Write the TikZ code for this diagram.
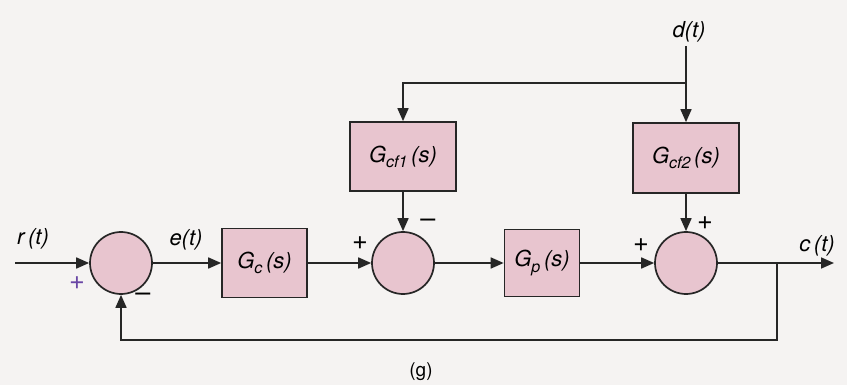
\documentclass[tikz,border=0pt]{standalone}
\usepackage{fontspec}
\setmainfont{TeX Gyre Heros}
\usetikzlibrary{arrows.meta}
\definecolor{blockpink}{RGB}{232,197,207}
\definecolor{paper}{RGB}{245,243,242}
\definecolor{plusviolet}{RGB}{105,70,165}
\newcommand{\lowsub}[1]{\raisebox{-0.45ex}{\fontsize{16}{18}\selectfont #1}}
\begin{document}
\begin{tikzpicture}[x=1pt,y=-1pt,
  blk/.style={draw=black!85, line width=1.7pt, fill=blockpink, inner sep=0pt,
    font=\fontsize{22}{26}\selectfont\itshape},
  sumc/.style={circle, draw=black!85, line width=1.7pt, fill=blockpink,
    minimum size=62pt, inner sep=0pt},
  wire/.style={line width=1.7pt, draw=black!85},
  sig/.style={wire, -{Triangle[length=13pt,width=11pt]}},
  lbl/.style={font=\fontsize{22}{26}\selectfont\itshape, inner sep=0pt},
  sgn/.style={font=\fontsize{27}{30}\selectfont, inner sep=0pt}]
\fill[paper] (0,0) rectangle (847,385);
\useasboundingbox (0,0) rectangle (847,385);

% summing junctions
\node[sumc] (s1) at (121,263) {};
\node[sumc] (s2) at (403,263) {};
\node[sumc] (s3) at (686,263) {};

% blocks
\node[blk, minimum width=85pt, minimum height=69pt] (gc) at (264.5,263) {G\lowsub{c}\,(s)};
\node[blk, minimum width=106pt, minimum height=69pt] (gcf1) at (403,156.5) {G\lowsub{cf1}\,(s)};
\node[blk, minimum width=75pt, minimum height=67pt] (gp) at (542,263) {G\lowsub{p}\,(s)};
\node[blk, minimum width=106pt, minimum height=70pt] (gcf2) at (686,158) {G\lowsub{cf2}\,(s)};

% coordinates
\coordinate (rin) at (15,263);
\coordinate (dtop) at (686,46);
\coordinate (dbr) at (686,83);
\coordinate (dleft) at (403,83);
\coordinate (cbr) at (777,263);
\coordinate (cout) at (834,263);
\coordinate (fbr) at (777,340);
\coordinate (fbl) at (121,340);

% forward path
\draw[sig] (rin) -- (s1.west);
\draw[sig] (s1.east) -- (gc.west);
\draw[sig] (gc.east) -- (s2.west);
\draw[sig] (s2.east) -- (gp.west);
\draw[sig] (gp.east) -- (s3.west);
\draw[sig] (s3.east) -- (cout);

% disturbance paths
\draw[sig] (dtop) -- (gcf2.north);
\draw[sig] (dbr) -- (dleft) -- (gcf1.north);
\draw[sig] (gcf1.south) -- (s2.north);
\draw[sig] (gcf2.south) -- (s3.north);

% feedback
\draw[sig] (cbr) -- (fbr) -- (fbl) -- (s1.south);

% labels
\node[lbl] (lr) at (33,239) {r\,(t)};
\node[lbl] (le) at (186,240) {e(t)};
\node[lbl] (ld) at (689,32) {d(t)};
\node[lbl] (lc) at (817,246) {c\,(t)};
\node[sgn, text=plusviolet] (p1) at (77,283) {+};
\node[sgn] (m1) at (143,297) {\textendash};
\node[sgn] (p2) at (360,243) {+};
\node[sgn] (m2) at (428,223) {\textendash};
\node[sgn] (p3) at (641,245) {+};
\node[sgn] (p4) at (705,223) {+};
\node[font=\fontsize{19}{22}\selectfont, inner sep=0pt] (lg) at (421,372) {(g)};
\end{tikzpicture}
\end{document}
